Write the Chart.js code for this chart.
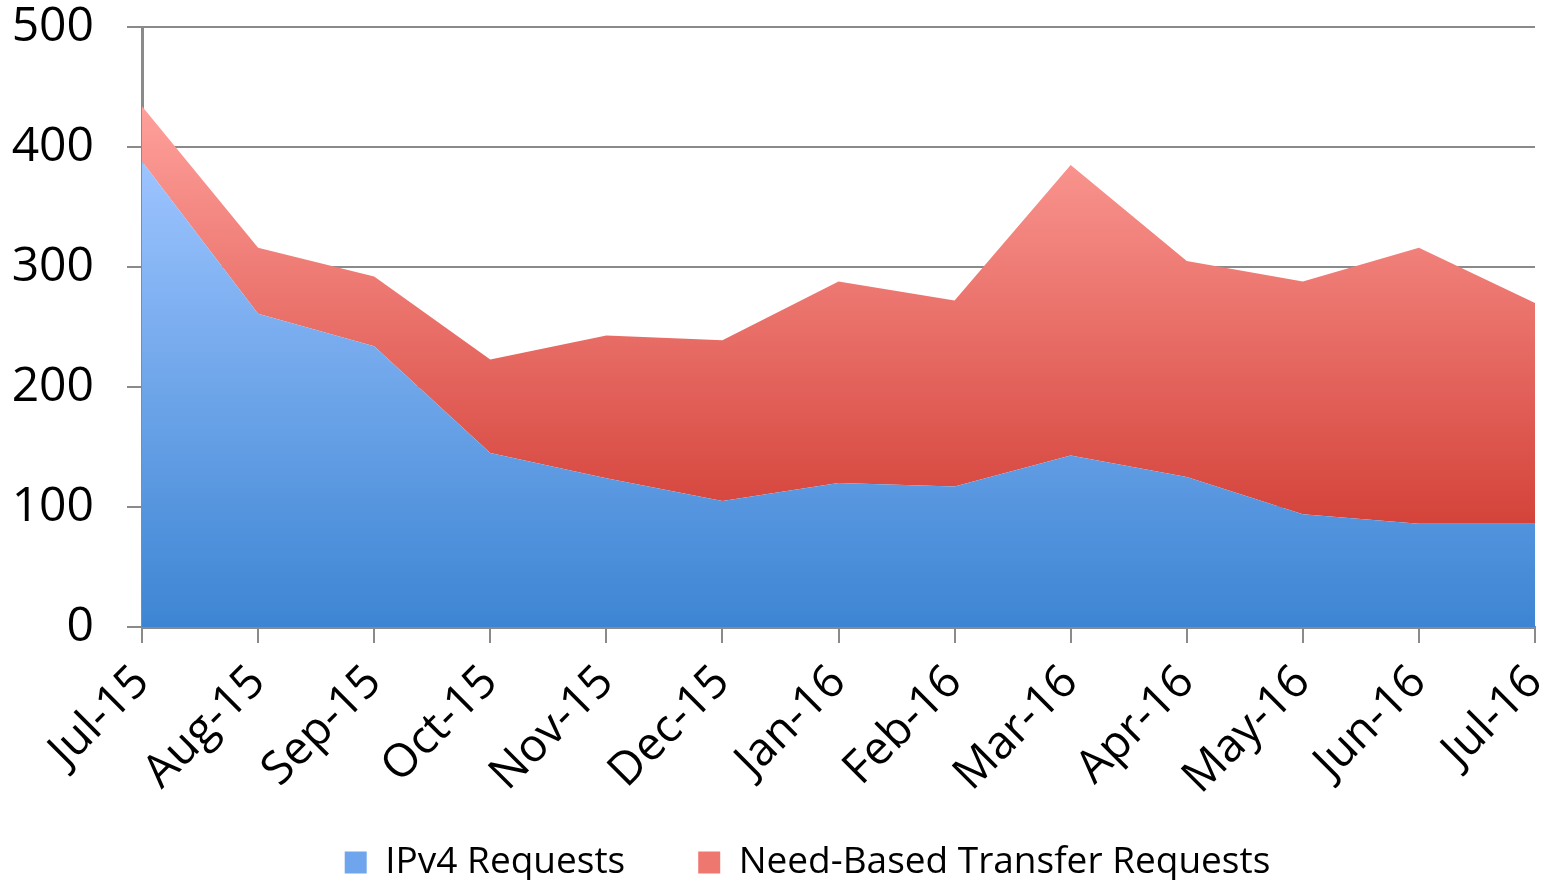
<!DOCTYPE html>
<html lang="en">
<head>
  <meta charset="UTF-8">
  <title>IPv4 and Need-Based Transfer Requests</title>
  <script src="https://cdn.jsdelivr.net/npm/chart.js"></script>
  <style>
    body {
      margin: 0;
      padding: 0;
      background: #fff;
    }
    .chart-box {
      width: 1552px;
      height: 880px;
      position: relative;
    }
  </style>
</head>
<body>
  <div class="chart-box">
    <canvas id="requestsChart"></canvas>
  </div>

  <script>
    const months = ["Jul-15", "Aug-15", "Sep-15", "Oct-15", "Nov-15", "Dec-15", "Jan-16",
                    "Feb-16", "Mar-16", "Apr-16", "May-16", "Jun-16", "Jul-16"];
    const ipv4Requests = [388, 261, 234, 145, 124, 105, 120, 117, 143, 125, 94, 86, 86];
    const transferRequests = [46, 55, 58, 78, 119, 134, 168, 155, 242, 180, 194, 230, 184];
    const yTicks = [0, 100, 200, 300, 400, 500];

    const FONT = "'Open Sans', sans-serif";
    const GRID = "#8a8a8a";

    // vertical gradient from the series' highest value down to its lowest base
    function areaGradient(context, top, bottom, light, dark) {
      const chart = context.chart;
      if (!chart.chartArea) return light;
      const y = chart.scales.y;
      const g = chart.ctx.createLinearGradient(0, y.getPixelForValue(top), 0, y.getPixelForValue(bottom));
      g.addColorStop(0, light);
      g.addColorStop(1, dark);
      return g;
    }

    const totals = ipv4Requests.map((v, i) => v + transferRequests[i]);

    // the x labels need a tall axis box (they get clipped to it), so the legend box
    // is stretched upward over the label area after layout, and moved a little right
    const legendNudge = {
      id: "legendNudge",
      afterLayout(chart) {
        const lg = chart.legend;
        lg.top = 771;
        lg.bottom = chart.height;
        lg.height = lg.bottom - lg.top;
        lg.left += 40;
        lg.right += 40;
      }
    };

    const chart = new Chart(document.getElementById("requestsChart"), {
      type: "line",
      data: {
        labels: months,
        datasets: [
          {
            label: "IPv4 Requests",
            data: ipv4Requests,
            fill: "origin",
            borderWidth: 0,
            pointRadius: 0,
            tension: 0,
            backgroundColor: ctx => areaGradient(ctx, Math.max(...ipv4Requests), 0, "#9dc4ff", "#3d85d3")
          },
          {
            label: "Need-Based Transfer Requests",
            data: transferRequests,
            fill: "-1",
            borderWidth: 0,
            pointRadius: 0,
            tension: 0,
            backgroundColor: ctx => areaGradient(ctx, Math.max(...totals), Math.min(...ipv4Requests), "#ffa09b", "#d4433a")
          }
        ]
      },
      plugins: [legendNudge],
      options: {
        responsive: true,
        maintainAspectRatio: false,
        animation: false,
        layout: { padding: { top: 27, right: 17, left: 0, bottom: 0 } },
        plugins: {
          tooltip: { enabled: false },
          legend: {
            position: "bottom",
            maxHeight: 70,
            labels: {
              font: { family: FONT, size: 37 },
              color: "#000",
              boxWidth: 22,
              boxHeight: 22,
              padding: 73,
              generateLabels: c => c.data.datasets.map((ds, i) => ({
                text: ds.label,
                fillStyle: i === 0 ? "#6fa5ec" : "#ee7870",
                lineWidth: 0,
                strokeStyle: "transparent",
                datasetIndex: i
              }))
            }
          }
        },
        scales: {
          x: {
            offset: false,
            afterFit: s => {
              s.height = 880 - 70 - 627;
              s.paddingLeft = 0;
              s.paddingRight = 0;
            },
            grid: {
              drawOnChartArea: false,
              drawTicks: true,
              tickLength: 16,
              color: GRID,
              lineWidth: 2
            },
            border: { color: GRID, width: 3 },
            ticks: {
              minRotation: 45,
              maxRotation: 45,
              padding: 12,
              color: "#000",
              font: { family: FONT, size: 46 }
            }
          },
          y: {
            stacked: true,
            min: 0,
            max: 500,
            afterBuildTicks: s => { s.ticks = yTicks.map(v => ({ value: v })); },
            afterFit: s => {
              s.width = 142;
              s.paddingTop = 0;
              s.paddingBottom = 0;
            },
            grid: {
              color: GRID,
              lineWidth: 2,
              tickLength: 15
            },
            border: { color: GRID, width: 3 },
            ticks: {
              padding: 33,
              color: "#000",
              font: { family: FONT, size: 48 }
            }
          }
        }
      }
    });
  </script>
</body>
</html>
